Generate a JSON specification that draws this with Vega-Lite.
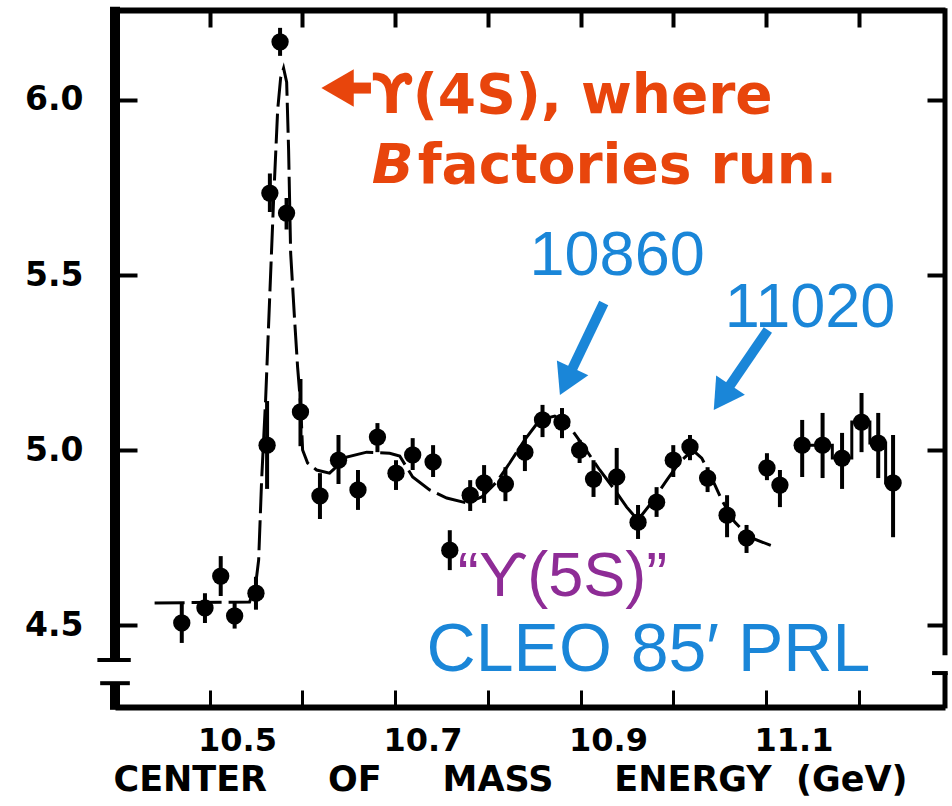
{
  "$schema": "https://vega.github.io/schema/vega-lite/v6.json",
  "width": 830,
  "height": 697,
  "autosize": {"type": "none"},
  "padding": {"left": 115, "top": 10, "right": 7, "bottom": 99},
  "background": "white",
  "config": {"view": {"stroke": null}, "axis": {"grid": false}},
  "datasets": {
    "one": [{}],
    "pts": [
      {"E": 10.470, "R": 4.506, "lo": 4.449, "hi": 4.563},
      {"E": 10.495, "R": 4.549, "lo": 4.506, "hi": 4.591},
      {"E": 10.512, "R": 4.640, "lo": 4.583, "hi": 4.697},
      {"E": 10.527, "R": 4.526, "lo": 4.490, "hi": 4.563},
      {"E": 10.550, "R": 4.591, "lo": 4.544, "hi": 4.638},
      {"E": 10.562, "R": 5.014, "lo": 4.889, "hi": 5.140},
      {"E": 10.565, "R": 5.734, "lo": 5.680, "hi": 5.790},
      {"E": 10.576, "R": 6.166, "lo": 6.126, "hi": 6.206},
      {"E": 10.583, "R": 5.677, "lo": 5.630, "hi": 5.720},
      {"E": 10.598, "R": 5.109, "lo": 5.011, "hi": 5.203},
      {"E": 10.619, "R": 4.869, "lo": 4.803, "hi": 4.934},
      {"E": 10.639, "R": 4.971, "lo": 4.903, "hi": 5.043},
      {"E": 10.660, "R": 4.886, "lo": 4.829, "hi": 4.943},
      {"E": 10.681, "R": 5.037, "lo": 4.994, "hi": 5.077},
      {"E": 10.701, "R": 4.934, "lo": 4.886, "hi": 4.971},
      {"E": 10.719, "R": 4.986, "lo": 4.943, "hi": 5.034},
      {"E": 10.741, "R": 4.966, "lo": 4.923, "hi": 5.014},
      {"E": 10.759, "R": 4.714, "lo": 4.657, "hi": 4.771},
      {"E": 10.781, "R": 4.871, "lo": 4.826, "hi": 4.914},
      {"E": 10.796, "R": 4.906, "lo": 4.849, "hi": 4.957},
      {"E": 10.819, "R": 4.903, "lo": 4.854, "hi": 4.951},
      {"E": 10.840, "R": 4.994, "lo": 4.940, "hi": 5.043},
      {"E": 10.859, "R": 5.086, "lo": 5.037, "hi": 5.129},
      {"E": 10.880, "R": 5.080, "lo": 5.034, "hi": 5.120},
      {"E": 10.899, "R": 5.000, "lo": 4.963, "hi": 5.029},
      {"E": 10.914, "R": 4.917, "lo": 4.866, "hi": 4.971},
      {"E": 10.939, "R": 4.923, "lo": 4.843, "hi": 5.006},
      {"E": 10.962, "R": 4.794, "lo": 4.746, "hi": 4.843},
      {"E": 10.982, "R": 4.851, "lo": 4.809, "hi": 4.894},
      {"E": 11.000, "R": 4.971, "lo": 4.923, "hi": 5.014},
      {"E": 11.018, "R": 5.009, "lo": 4.971, "hi": 5.043},
      {"E": 11.037, "R": 4.920, "lo": 4.880, "hi": 4.951},
      {"E": 11.058, "R": 4.814, "lo": 4.751, "hi": 4.871},
      {"E": 11.079, "R": 4.749, "lo": 4.706, "hi": 4.786},
      {"E": 11.101, "R": 4.949, "lo": 4.914, "hi": 4.991},
      {"E": 11.115, "R": 4.900, "lo": 4.837, "hi": 4.943},
      {"E": 11.139, "R": 5.014, "lo": 4.923, "hi": 5.086},
      {"E": 11.161, "R": 5.014, "lo": 4.920, "hi": 5.106},
      {"E": 11.182, "R": 4.977, "lo": 4.889, "hi": 5.049},
      {"E": 11.203, "R": 5.080, "lo": 4.994, "hi": 5.163},
      {"E": 11.221, "R": 5.020, "lo": 4.920, "hi": 5.106},
      {"E": 11.237, "R": 4.906, "lo": 4.751, "hi": 5.043}
    ],
    "curve": [
      {"E": 10.4407, "R": 4.563}, {"E": 10.5431, "R": 4.566}, {"E": 10.5496, "R": 4.614},
      {"E": 10.5529, "R": 4.686}, {"E": 10.5561, "R": 4.914}, {"E": 10.5604, "R": 5.143},
      {"E": 10.5647, "R": 5.429}, {"E": 10.5690, "R": 5.714}, {"E": 10.5734, "R": 5.971},
      {"E": 10.5766, "R": 6.063}, {"E": 10.5798, "R": 6.091}, {"E": 10.5831, "R": 6.051},
      {"E": 10.5852, "R": 5.857}, {"E": 10.5874, "R": 5.563}, {"E": 10.5917, "R": 5.371},
      {"E": 10.5949, "R": 5.237}, {"E": 10.5982, "R": 5.129}, {"E": 10.6003, "R": 5.000},
      {"E": 10.6057, "R": 4.963}, {"E": 10.6154, "R": 4.943}, {"E": 10.6294, "R": 4.934},
      {"E": 10.6478, "R": 4.980}, {"E": 10.6694, "R": 4.994}, {"E": 10.6942, "R": 4.991},
      {"E": 10.7050, "R": 4.983}, {"E": 10.7190, "R": 4.923}, {"E": 10.7373, "R": 4.886},
      {"E": 10.7557, "R": 4.863}, {"E": 10.7772, "R": 4.849}, {"E": 10.7934, "R": 4.866},
      {"E": 10.8096, "R": 4.909}, {"E": 10.8236, "R": 4.963}, {"E": 10.8398, "R": 5.029},
      {"E": 10.8560, "R": 5.086}, {"E": 10.8722, "R": 5.097}, {"E": 10.8883, "R": 5.066},
      {"E": 10.9045, "R": 5.006}, {"E": 10.9207, "R": 4.943}, {"E": 10.9347, "R": 4.894},
      {"E": 10.9498, "R": 4.837}, {"E": 10.9617, "R": 4.800}, {"E": 10.9746, "R": 4.843},
      {"E": 10.9930, "R": 4.914}, {"E": 11.0070, "R": 4.966}, {"E": 11.0210, "R": 5.000},
      {"E": 11.0307, "R": 4.977}, {"E": 11.0415, "R": 4.920}, {"E": 11.0523, "R": 4.857},
      {"E": 11.0663, "R": 4.794}, {"E": 11.0825, "R": 4.751}, {"E": 11.1095, "R": 4.723}
    ],
    "steps": [
      {"E": 11.139, "R": 5.014}, {"E": 11.161, "R": 5.014}, {"E": 11.182, "R": 4.977},
      {"E": 11.203, "R": 5.080}, {"E": 11.221, "R": 5.020}, {"E": 11.237, "R": 4.906}
    ]
  },
  "layer": [
    {
      "data": {"name": "pts"},
      "mark": {"type": "rule", "strokeWidth": 4, "color": "black"},
      "encoding": {
        "x": {
          "field": "E", "type": "quantitative",
          "scale": {"domain": [10.398, 11.293], "nice": false, "zero": false},
          "axis": {
            "orient": "bottom", "values": [10.5, 10.6, 10.7, 10.8, 10.9, 11.0, 11.1, 11.2],
            "domain": true, "domainWidth": 6, "domainColor": "black",
            "ticks": true, "tickSize": -17, "tickWidth": 3, "tickColor": "black",
            "labelExpr": "(round(datum.value*10) % 2 == 1) ? format(datum.value, '.1f') : ''",
            "labelAlign": "left", "labelOffset": -12, "labelPadding": 35, "labelBaseline": "top",
            "labelFont": "DejaVu Sans", "labelFontWeight": "bold", "labelFontSize": 32, "labelColor": "black",
            "labelFlush": false, "labelOverlap": false,
            "title": "CENTER\u00a0\u00a0\u00a0\u00a0 OF\u00a0\u00a0\u00a0\u00a0 MASS\u00a0\u00a0\u00a0\u00a0 ENERGY\u00a0 (GeV)",
            "titleFont": "DejaVu Sans", "titleFontWeight": "bold", "titleFontSize": 35, "titleColor": "black",
            "titlePadding": 6, "titleX": 395, "titleAnchor": "middle"
          }
        },
        "y": {
          "field": "lo", "type": "quantitative",
          "scale": {"domain": [4.266, 6.257], "nice": false, "zero": false},
          "axis": {
            "orient": "left", "values": [4.5, 5.0, 5.5, 6.0],
            "domain": false, "ticks": true, "tickSize": -22, "tickWidth": 4, "tickColor": "black",
            "labelFont": "DejaVu Sans", "labelFontWeight": "bold", "labelFontSize": 33, "labelColor": "black",
            "labelPadding": 54, "labelFlush": false, "labelOverlap": false,
            "format": ".1f", "title": null
          }
        },
        "y2": {"field": "hi"}
      }
    },
    {
      "data": {"name": "pts"},
      "mark": {"type": "point", "filled": true, "shape": "circle", "size": 300, "color": "black", "opacity": 1},
      "encoding": {
        "x": {
          "field": "E", "type": "quantitative",
          "axis": {
            "orient": "top", "values": [10.5, 10.6, 10.7, 10.8, 10.9, 11.0, 11.1, 11.2],
            "domain": true, "domainWidth": 6, "domainColor": "black",
            "ticks": true, "tickSize": -17, "tickWidth": 4, "tickColor": "black",
            "labels": false, "title": null
          }
        },
        "y": {
          "field": "R", "type": "quantitative",
          "axis": {
            "orient": "right", "values": [4.5, 5.0, 5.5, 6.0],
            "domain": false, "ticks": true, "tickSize": -18, "tickWidth": 4, "tickColor": "black",
            "labels": false, "title": null
          }
        }
      }
    },
    {
      "data": {"name": "curve"},
      "mark": {"type": "line", "color": "black", "strokeWidth": 3, "strokeDash": [30, 7]},
      "encoding": {
        "x": {"field": "E", "type": "quantitative", "axis": null},
        "y": {"field": "R", "type": "quantitative", "axis": null}
      }
    },
    {
      "data": {"name": "steps"},
      "mark": {"type": "line", "color": "black", "strokeWidth": 3, "interpolate": "step"},
      "encoding": {
        "x": {"field": "E", "type": "quantitative", "axis": null},
        "y": {"field": "R", "type": "quantitative", "axis": null}
      }
    },
    {
      "data": {"name": "one"},
      "mark": {"type": "rule", "color": "black", "strokeWidth": 10},
      "encoding": {
        "x": {"datum": 10.398, "type": "quantitative", "axis": null},
        "y": {"datum": 4.40, "type": "quantitative", "axis": null},
        "y2": {"datum": 6.266}
      }
    },
    {
      "data": {"name": "one"},
      "mark": {"type": "rule", "color": "black", "strokeWidth": 10},
      "encoding": {
        "x": {"datum": 10.398, "type": "quantitative", "axis": null},
        "y": {"datum": 4.258, "type": "quantitative", "axis": null},
        "y2": {"datum": 4.334}
      }
    },
    {
      "data": {"name": "one"},
      "mark": {"type": "rule", "color": "black", "strokeWidth": 4},
      "encoding": {
        "x": {"datum": 10.379, "type": "quantitative", "axis": null},
        "x2": {"datum": 10.415},
        "y": {"datum": 4.40, "type": "quantitative", "axis": null}
      }
    },
    {
      "data": {"name": "one"},
      "mark": {"type": "rule", "color": "black", "strokeWidth": 4},
      "encoding": {
        "x": {"datum": 10.382, "type": "quantitative", "axis": null},
        "x2": {"datum": 10.414},
        "y": {"datum": 4.334, "type": "quantitative", "axis": null}
      }
    },
    {
      "data": {"name": "one"},
      "mark": {"type": "rule", "color": "black", "strokeWidth": 5},
      "encoding": {
        "x": {"datum": 11.293, "type": "quantitative", "axis": null},
        "y": {"datum": 4.414, "type": "quantitative", "axis": null},
        "y2": {"datum": 6.262}
      }
    },
    {
      "data": {"name": "one"},
      "mark": {"type": "rule", "color": "black", "strokeWidth": 5},
      "encoding": {
        "x": {"datum": 11.293, "type": "quantitative", "axis": null},
        "y": {"datum": 4.262, "type": "quantitative", "axis": null},
        "y2": {"datum": 4.363}
      }
    },
    {
      "data": {"name": "one"},
      "mark": {"type": "rule", "color": "black", "strokeWidth": 4},
      "encoding": {
        "x": {"datum": 11.279, "type": "quantitative", "axis": null},
        "x2": {"datum": 11.296},
        "y": {"datum": 4.363, "type": "quantitative", "axis": null}
      }
    },
    {
      "data": {"name": "one"},
      "mark": {"type": "rule", "color": "#e8450c", "strokeWidth": 11},
      "encoding": {
        "x": {"datum": 10.643, "type": "quantitative", "axis": null},
        "x2": {"datum": 10.674},
        "y": {"datum": 6.034, "type": "quantitative", "axis": null}
      }
    },
    {
      "data": {"name": "one"},
      "mark": {"type": "point", "shape": "triangle-left", "filled": true, "size": 1400, "color": "#e8450c", "opacity": 1},
      "encoding": {
        "x": {"datum": 10.638, "type": "quantitative", "axis": null},
        "y": {"datum": 6.034, "type": "quantitative", "axis": null}
      }
    },
    {
      "data": {"name": "one"},
      "mark": {"type": "text", "text": "\u03d2(4S), where", "align": "left", "baseline": "alphabetic", "font": "DejaVu Sans", "fontWeight": "bold", "fontSize": 55, "color": "#e8450c"},
      "encoding": {
        "x": {"datum": 10.6748, "type": "quantitative", "axis": null},
        "y": {"datum": 5.963, "type": "quantitative", "axis": null}
      }
    },
    {
      "data": {"name": "one"},
      "mark": {"type": "text", "text": "B", "align": "left", "baseline": "alphabetic", "font": "DejaVu Sans", "fontStyle": "italic", "fontWeight": "bold", "fontSize": 55, "color": "#e8450c"},
      "encoding": {
        "x": {"datum": 10.6748, "type": "quantitative", "axis": null},
        "y": {"datum": 5.763, "type": "quantitative", "axis": null}
      }
    },
    {
      "data": {"name": "one"},
      "mark": {"type": "text", "text": "factories run.", "align": "left", "baseline": "alphabetic", "font": "DejaVu Sans", "fontWeight": "bold", "fontSize": 55, "color": "#e8450c"},
      "encoding": {
        "x": {"datum": 10.7244, "type": "quantitative", "axis": null},
        "y": {"datum": 5.763, "type": "quantitative", "axis": null}
      }
    },
    {
      "data": {"name": "one"},
      "mark": {"type": "text", "text": "10860", "align": "left", "baseline": "alphabetic", "font": "Liberation Sans", "fontSize": 63, "color": "#1a86d8"},
      "encoding": {
        "x": {"datum": 10.845, "type": "quantitative", "axis": null},
        "y": {"datum": 5.5, "type": "quantitative", "axis": null}
      }
    },
    {
      "data": {"name": "one"},
      "mark": {"type": "text", "text": "11020", "align": "left", "baseline": "alphabetic", "font": "Liberation Sans", "fontSize": 63, "color": "#1a86d8"},
      "encoding": {
        "x": {"datum": 11.0556, "type": "quantitative", "axis": null},
        "y": {"datum": 5.351, "type": "quantitative", "axis": null}
      }
    },
    {
      "data": {"name": "one"},
      "mark": {"type": "rule", "color": "#1a86d8", "strokeWidth": 10},
      "encoding": {
        "x": {"datum": 10.925, "type": "quantitative", "axis": null},
        "x2": {"datum": 10.8883},
        "y": {"datum": 5.42, "type": "quantitative", "axis": null},
        "y2": {"datum": 5.217}
      }
    },
    {
      "data": {"name": "one"},
      "mark": {"type": "point", "shape": "triangle-down", "filled": true, "size": 1200, "angle": 25, "color": "#1a86d8", "opacity": 1},
      "encoding": {
        "x": {"datum": 10.8846, "type": "quantitative", "axis": null},
        "y": {"datum": 5.196, "type": "quantitative", "axis": null}
      }
    },
    {
      "data": {"name": "one"},
      "mark": {"type": "rule", "color": "#1a86d8", "strokeWidth": 10},
      "encoding": {
        "x": {"datum": 11.102, "type": "quantitative", "axis": null},
        "x2": {"datum": 11.0577},
        "y": {"datum": 5.343, "type": "quantitative", "axis": null},
        "y2": {"datum": 5.171}
      }
    },
    {
      "data": {"name": "one"},
      "mark": {"type": "point", "shape": "triangle-down", "filled": true, "size": 1200, "angle": 34, "color": "#1a86d8", "opacity": 1},
      "encoding": {
        "x": {"datum": 11.0527, "type": "quantitative", "axis": null},
        "y": {"datum": 5.15, "type": "quantitative", "axis": null}
      }
    },
    {
      "data": {"name": "one"},
      "mark": {"type": "text", "text": "\u201c\u03d2(5S)\u201d", "align": "left", "baseline": "alphabetic", "font": "Liberation Sans", "fontSize": 63, "color": "#8e2c96"},
      "encoding": {
        "x": {"datum": 10.7675, "type": "quantitative", "axis": null},
        "y": {"datum": 4.583, "type": "quantitative", "axis": null}
      }
    },
    {
      "data": {"name": "one"},
      "mark": {"type": "text", "text": "CLEO 85\u2032 PRL", "align": "left", "baseline": "alphabetic", "font": "Liberation Sans", "fontSize": 68, "color": "#1a86d8"},
      "encoding": {
        "x": {"datum": 10.734, "type": "quantitative", "axis": null},
        "y": {"datum": 4.369, "type": "quantitative", "axis": null}
      }
    }
  ],
  "resolve": {"axis": {"x": "independent", "y": "independent"}}
}
